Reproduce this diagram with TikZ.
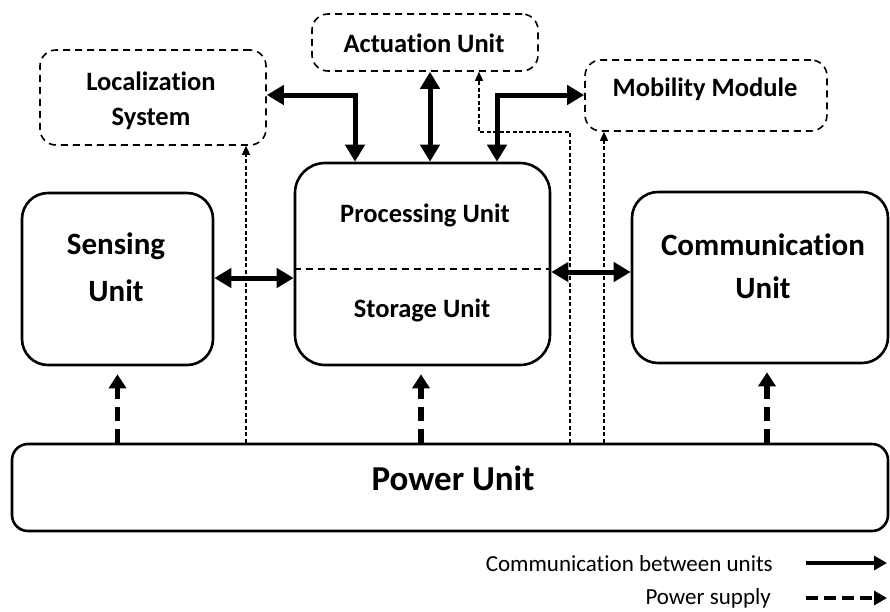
\documentclass[tikz,border=0pt]{standalone}
\usepackage{fontspec}
\setmainfont{Carlito}[Ligatures={NoCommon}]
\usetikzlibrary{arrows.meta,calc}
\tikzset{
  solidbox/.style={draw, line width=2.6pt, rounded corners=#1, inner sep=0pt},
  solidbox/.default=28pt,
  dashbox/.style={draw, line width=1.6pt, dash pattern=on 7pt off 5pt, rounded corners=16pt, inner sep=0pt},
  lbl/.style={font=\bfseries\fontsize{26.5}{30}\selectfont, inner sep=0pt},
  biglbl/.style={font=\bfseries\fontsize{31}{36}\selectfont, inner sep=0pt},
  legtxt/.style={font=\fontsize{23}{27}\selectfont, inner sep=0pt, anchor=east},
  comm/.style={line width=5pt, {Triangle[length=17pt,width=19pt]}-{Triangle[length=17pt,width=19pt]}},
  pow/.style={line width=5.5pt, dash pattern=on 14pt off 8pt, -{Triangle[length=14pt,width=17pt]}, shorten >=8pt},
  thin/.style={line width=1.4pt, dash pattern=on 4pt off 2.5pt, -{Triangle[length=9pt,width=8pt]}},
}
\begin{document}
\begin{tikzpicture}[x=1pt,y=-1pt]
\useasboundingbox (0,0) rectangle (890,611);
% boxes
\node[dashbox, minimum width=226pt, minimum height=95pt] (loc) at (153,97.5) {};
\node[dashbox, minimum width=226pt, minimum height=57pt] (act) at (425,42.5) {};
\node[dashbox, minimum width=242pt, minimum height=71pt] (mob) at (706,95.5) {};
\node[solidbox=26pt, minimum width=191pt, minimum height=172pt] (sens) at (117.5,279) {};
\node[solidbox=30pt, minimum width=255pt, minimum height=202pt] (proc) at (422.5,264) {};
\node[solidbox=26pt, minimum width=256pt, minimum height=171pt] (comm) at (760,277.5) {};
\node[solidbox=16pt, minimum width=876pt, minimum height=87pt] (power) at (450,487.5) {};
% divider
\draw[line width=1.4pt, dash pattern=on 7pt off 5pt] (proc.west |- 0,269) coordinate (dl) -- (proc.east |- 0,269) coordinate (dr);
% labels
\node[lbl] (tloc1) at (151,81) {Localization};
\node[lbl] (tloc2) at (151,119) {System};
\node[lbl] (tact) at (424,43) {Actuation Unit};
\node[lbl] (tmob) at (705,89) {Mobility Module};
\node[lbl] (tproc) at (425,215) {Processing Unit};
\node[lbl] (tstor) at (422,310) {Storage Unit};
\node[biglbl] (tsens1) at (116,246) {Sensing};
\node[biglbl] (tsens2) at (116,291) {Unit};
\node[biglbl] (tcomm1) at (763,245) {Communication};
\node[biglbl] (tcomm2) at (763,288) {Unit};
\node[font=\bfseries\fontsize{35}{40}\selectfont, inner sep=0pt] (tpow) at (453,478) {Power Unit};
% communication arrows
\draw[comm] (sens.east |- 0,278) -- (proc.west |- 0,278);
\draw[comm] (proc.east |- 0,272) -- (comm.west |- 0,272);
\draw[comm] (act.south -| 430,0) -- (proc.north -| 430,0);
\draw[comm] (loc.east |- 0,95) -| (proc.north -| 355,0);
\draw[comm] (proc.north -| 497,0) |- (mob.west |- 0,95);
% power supply
\draw[pow] (power.north -| sens.south) -- (sens.south);
\draw[pow] (power.north -| 421,0) -- (proc.south -| 421,0);
\draw[pow] (power.north -| 767,0) -- (comm.south -| 767,0);
% thin power lines
\draw[thin] (power.north -| 246,0) -- (loc.south -| 246,0);
\draw[thin] (power.north -| 570,0) |- (479,132) -- (act.south -| 479,0);
\draw[thin] (power.north -| 604,0) -- (mob.south -| 604,0);
% legend
\node[legtxt] (leg1) at (773,564) {Communication between units};
\node[legtxt] (leg2) at (771,598) {Power supply};
\coordinate (l1a) at (806,563);
\coordinate (l1b) at (887,563);
\coordinate (l2a) at (806,598);
\coordinate (l2b) at (887,598);
\draw[line width=4pt, -{Triangle[length=13pt,width=14pt]}] (l1a) -- (l1b);
\draw[line width=4.5pt, dash pattern=on 12pt off 6pt, -{Triangle[length=13pt,width=14pt]}] (l2a) -- (l2b);
\end{tikzpicture}
\end{document}
